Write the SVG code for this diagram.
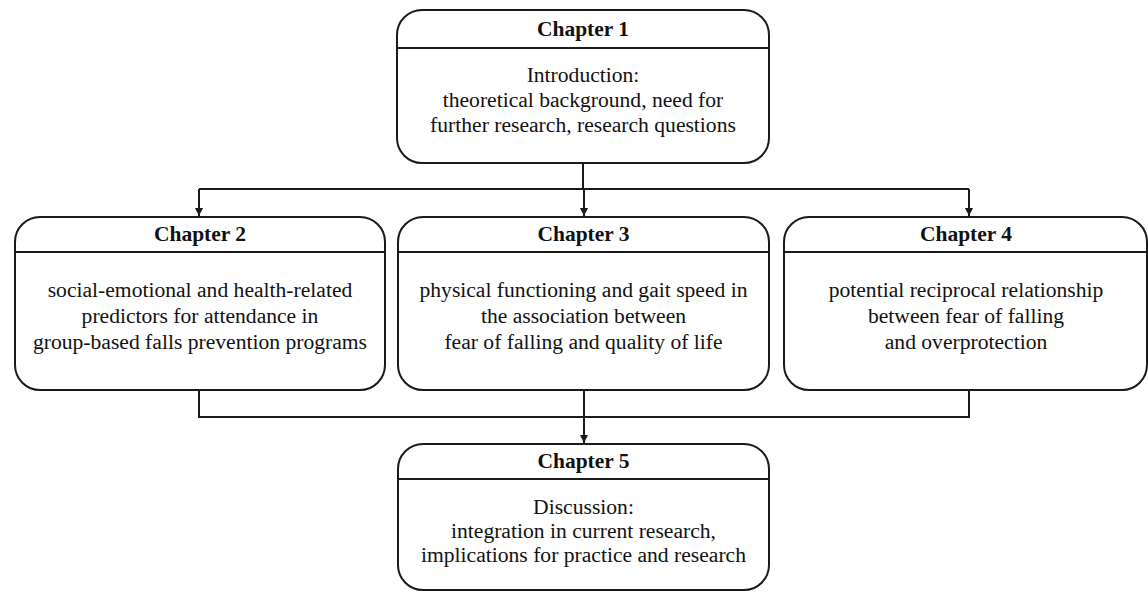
<svg xmlns="http://www.w3.org/2000/svg" width="1148" height="592" viewBox="0 0 1148 592">
<style>
.box{fill:#fff;stroke:#1a1a1a;stroke-width:2}
.div{stroke:#1a1a1a;stroke-width:2}
.title{font-family:"Liberation Serif","Times New Roman",serif;font-size:21.5px;font-weight:bold;fill:#111;text-anchor:middle}
.body{font-family:"Liberation Serif","Times New Roman",serif;font-size:21.6px;fill:#111;text-anchor:middle}
.conn{fill:none;stroke:#1a1a1a;stroke-width:2}
</style>
<defs>
<marker id="arr" viewBox="0 0 10 10" refX="10" refY="5" markerWidth="8" markerHeight="8" markerUnits="userSpaceOnUse" orient="auto">
<path d="M0,0 L10,5 L0,10 z" fill="#1a1a1a"/>
</marker>
</defs>
<rect width="1148" height="592" fill="#fff"/>
<g id="connectors">
<path class="conn" d="M583,163 V189"/>
<path class="conn" d="M199,189 H969"/>
<path class="conn" d="M199,189 V216" marker-end="url(#arr)"/>
<path class="conn" d="M584,189 V216" marker-end="url(#arr)"/>
<path class="conn" d="M969,189 V216" marker-end="url(#arr)"/>
<path class="conn" d="M199,390 V417 H969 V390"/>
<path class="conn" d="M584,390 V443" marker-end="url(#arr)"/>
</g>
<g id="chapter1">
<rect class="box" x="397" y="10" width="372" height="153" rx="25" ry="25"/>
<line class="div" x1="397" y1="48" x2="769" y2="48"/>
<text class="title" x="583" y="36">Chapter 1</text>
<text class="body" x="583" y="82">Introduction:</text>
<text class="body" x="583" y="107">theoretical background, need for</text>
<text class="body" x="583" y="132">further research, research questions</text>
</g>
<g id="chapter2">
<rect class="box" x="15" y="217" width="370" height="173" rx="25" ry="25"/>
<line class="div" x1="15" y1="252" x2="385" y2="252"/>
<text class="title" x="200" y="241">Chapter 2</text>
<text class="body" x="200" y="297">social-emotional and health-related</text>
<text class="body" x="200" y="323">predictors for attendance in</text>
<text class="body" x="200" y="349">group-based falls prevention programs</text>
</g>
<g id="chapter3">
<rect class="box" x="398" y="217" width="371" height="173" rx="25" ry="25"/>
<line class="div" x1="398" y1="252" x2="769" y2="252"/>
<text class="title" x="583.5" y="241">Chapter 3</text>
<text class="body" x="583.5" y="297">physical functioning and gait speed in</text>
<text class="body" x="583.5" y="323">the association between</text>
<text class="body" x="583.5" y="349">fear of falling and quality of life</text>
</g>
<g id="chapter4">
<rect class="box" x="784" y="217" width="363" height="173" rx="25" ry="25"/>
<line class="div" x1="784" y1="252" x2="1147" y2="252"/>
<text class="title" x="966" y="241">Chapter 4</text>
<text class="body" x="966" y="297">potential reciprocal relationship</text>
<text class="body" x="966" y="323">between fear of falling</text>
<text class="body" x="966" y="349">and overprotection</text>
</g>
<g id="chapter5">
<rect class="box" x="398" y="444" width="371" height="146" rx="25" ry="25"/>
<line class="div" x1="398" y1="479" x2="769" y2="479"/>
<text class="title" x="583.5" y="468">Chapter 5</text>
<text class="body" x="583.5" y="514">Discussion:</text>
<text class="body" x="583.5" y="538">integration in current research,</text>
<text class="body" x="583.5" y="562">implications for practice and research</text>
</g>
</svg>
